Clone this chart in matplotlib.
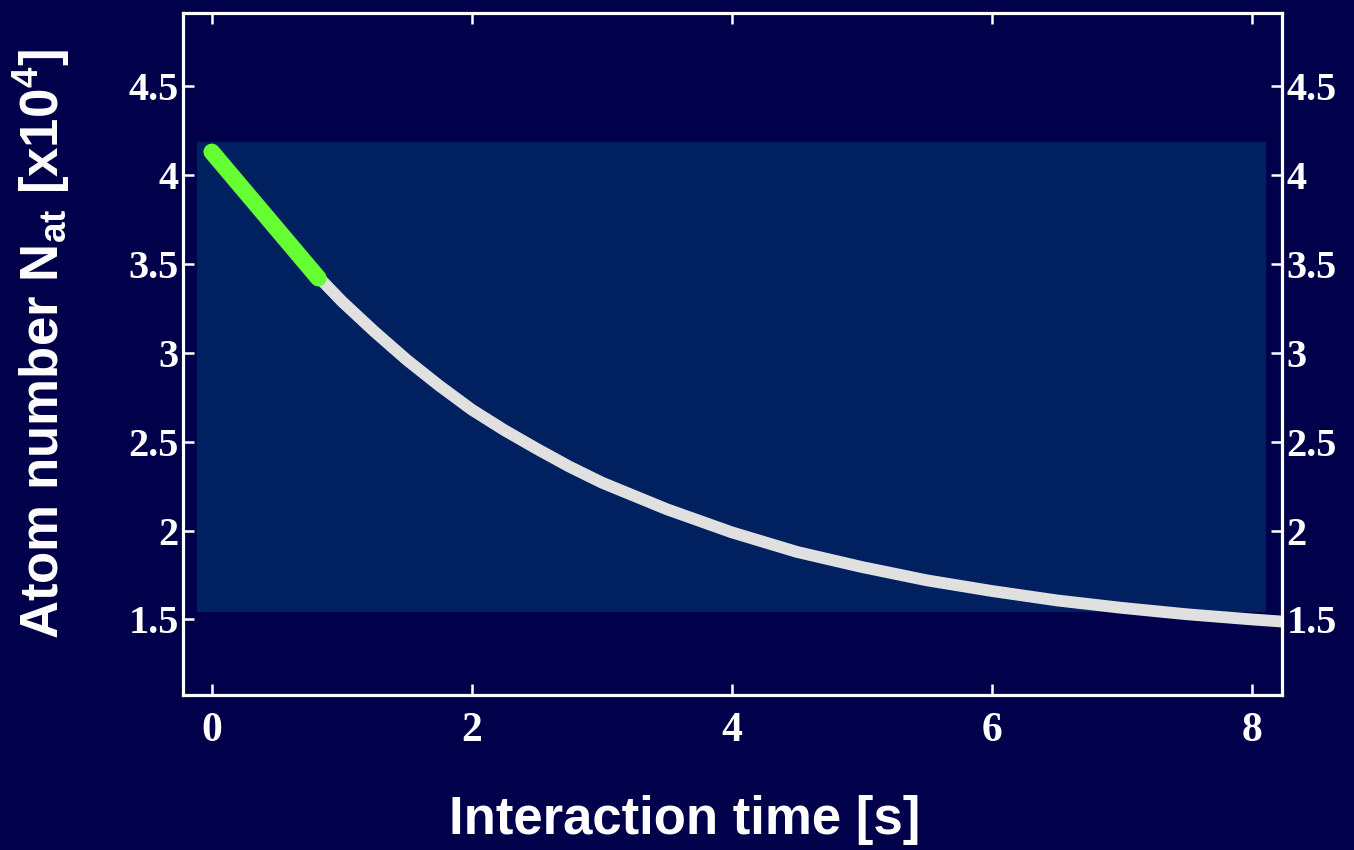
import matplotlib
matplotlib.use("Agg")
import matplotlib.pyplot as plt
from matplotlib.patches import Rectangle

# atom number decay curve (time in s, N in units of 1e4)
time_s = [0.0, 0.25, 0.5, 0.75, 1.0, 1.25, 1.5, 1.75, 2.0, 2.25, 2.5, 2.75, 3.0, 3.5,
          4.0, 4.5, 5.0, 5.5, 6.0, 6.5, 7.0, 7.5, 8.0, 8.25]
atoms = [4.13, 3.90, 3.69, 3.48, 3.29, 3.12, 2.96, 2.815, 2.68, 2.565, 2.46, 2.36, 2.27, 2.12,
         1.99, 1.88, 1.795, 1.72, 1.66, 1.607, 1.565, 1.529, 1.50, 1.487]

# measured (green) part at the start of the curve
green_t = [0.0, 0.41, 0.82]
green_n = [4.13, 3.775, 3.42]

# shaded panel behind the curve
panel_t = (-0.115, 8.11)
panel_n = (1.542, 4.186)

x_ticks = [0, 2, 4, 6, 8]
y_ticks = [1.5, 2, 2.5, 3, 3.5, 4, 4.5]
y_ticklabels = ["1.5", "2", "2.5", "3", "3.5", "4", "4.5"]

BG = "#00004b"
PANEL = "#002060"
CURVE = "#e0e0e0"
GREEN = "#66ff33"

plt.rcParams["mathtext.fontset"] = "custom"
plt.rcParams["mathtext.rm"] = "Liberation Sans:bold"
plt.rcParams["mathtext.it"] = "Liberation Sans:bold"
plt.rcParams["mathtext.bf"] = "Liberation Sans:bold"

fig = plt.figure(figsize=(13.54, 8.5), dpi=100, facecolor=BG)
ax = fig.add_axes([0.1352, 0.1824, 0.8117, 0.8024])
ax.set_facecolor(BG)

ax.add_patch(Rectangle((panel_t[0], panel_n[0]), panel_t[1] - panel_t[0],
                       panel_n[1] - panel_n[0], facecolor=PANEL, edgecolor="none", zorder=1))
ax.plot(time_s, atoms, color=CURVE, lw=8.5, solid_joinstyle="round", zorder=2)
ax.plot(green_t, green_n, color=GREEN, lw=12, solid_capstyle="round",
        solid_joinstyle="round", zorder=3)

ax.set_xlim(-0.221, 8.234)
ax.set_ylim(1.075, 4.912)

for s in ax.spines.values():
    s.set_color("white")
    s.set_linewidth(2.3)

ax.set_xticks(x_ticks)
ax.set_yticks(y_ticks)
ax.set_yticklabels(y_ticklabels)
ax.tick_params(direction="in", length=8, width=1.8, color="white",
               top=True, right=True, labelright=True)
ax.tick_params(axis="x", pad=12, labelsize=30, labelcolor="white")
ax.tick_params(axis="y", pad=3, labelsize=29, labelcolor="white")
for lab in ax.get_xticklabels() + ax.get_yticklabels():
    lab.set_fontfamily("Liberation Serif")
    lab.set_fontweight("bold")

fig.text(0.031, 0.595, r"Atom number N$_{at}$ [x10$^{4}$]", rotation=90,
         ha="center", va="center", color="white", fontsize=38,
         fontweight="bold", family="Liberation Sans")
fig.text(0.506, 0.035, "Interaction time [s]", ha="center", va="center",
         color="white", fontsize=38, fontweight="bold", family="Liberation Sans")

fig.savefig("out.png", dpi=100, facecolor=BG)
